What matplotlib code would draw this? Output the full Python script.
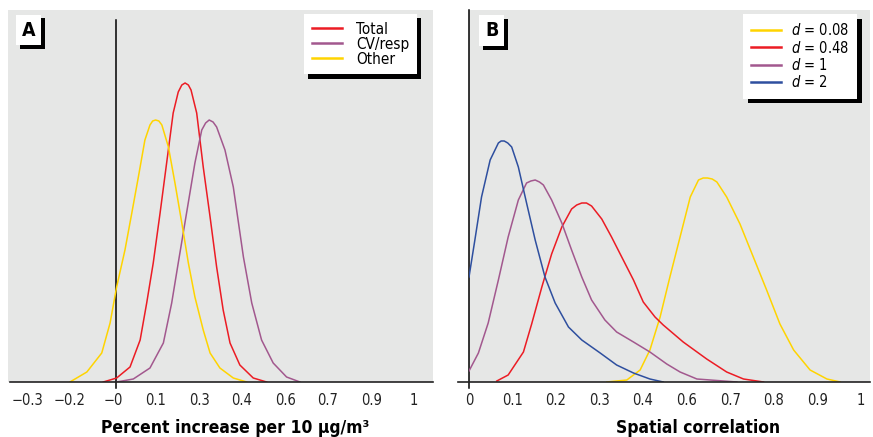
import matplotlib
matplotlib.use("Agg")
import matplotlib.pyplot as plt
import matplotlib.patheffects as pe
from matplotlib.lines import Line2D
from matplotlib import font_manager as fm

# narrow face if one is installed, otherwise condensed DejaVu
names = {f.name for f in fm.fontManager.ttflist}
if 'Liberation Sans Narrow' in names:
    plt.rcParams['font.family'] = ['Liberation Sans Narrow', 'DejaVu Sans']
else:
    plt.rcParams['font.family'] = ['DejaVu Sans']
    plt.rcParams['font.stretch'] = 'condensed'
plt.rcParams['mathtext.fontset'] = 'custom'
plt.rcParams['mathtext.it'] = 'DejaVu Sans:italic:stretch=condensed'

# panel A: posterior densities of the percent increase (x, density)
other_x = [-0.156, -0.099, -0.049, -0.021, 0.001, 0.029, 0.052, 0.074, 0.096, 0.113, 0.122, 0.132,
           0.143, 0.153, 0.175, 0.197, 0.220, 0.242, 0.264, 0.292, 0.315, 0.348, 0.393, 0.438]
other_y = [0.00, 0.10, 0.29, 0.59, 0.95, 1.32, 1.69, 2.05, 2.42, 2.57, 2.61, 2.62,
           2.61, 2.57, 2.35, 1.99, 1.59, 1.19, 0.85, 0.52, 0.29, 0.14, 0.04, 0.00]
total_x = [-0.044, 0.001, 0.046, 0.080, 0.102, 0.124, 0.147, 0.169, 0.191, 0.208, 0.220, 0.231,
           0.242, 0.251, 0.270, 0.292, 0.315, 0.337, 0.359, 0.382, 0.415, 0.460, 0.505]
total_y = [0.00, 0.04, 0.15, 0.42, 0.79, 1.19, 1.69, 2.19, 2.69, 2.90, 2.97, 2.99,
           2.97, 2.92, 2.69, 2.15, 1.65, 1.15, 0.72, 0.39, 0.17, 0.04, 0.00]
cvresp_x = [0.001, 0.057, 0.113, 0.158, 0.186, 0.208, 0.236, 0.264, 0.287, 0.300, 0.312, 0.325,
            0.337, 0.365, 0.393, 0.427, 0.455, 0.488, 0.527, 0.572, 0.617]
cvresp_y = [0.00, 0.03, 0.14, 0.39, 0.79, 1.19, 1.69, 2.19, 2.52, 2.59, 2.62, 2.60,
            2.55, 2.32, 1.95, 1.25, 0.79, 0.42, 0.19, 0.05, 0.00]

# panel B: spatial correlation densities for different d
d008_x = [0.352, 0.403, 0.437, 0.462, 0.488, 0.513, 0.539, 0.565, 0.586, 0.598, 0.609, 0.621,
          0.633, 0.658, 0.692, 0.726, 0.760, 0.794, 0.829, 0.871, 0.914, 0.948]
d008_y = [0.00, 0.02, 0.12, 0.32, 0.65, 1.05, 1.45, 1.85, 2.02, 2.04, 2.04, 2.03,
          2.00, 1.85, 1.58, 1.25, 0.92, 0.58, 0.32, 0.12, 0.03, 0.00]
d048_x = [0.071, 0.100, 0.139, 0.160, 0.186, 0.211, 0.237, 0.262, 0.275, 0.288, 0.300, 0.313,
          0.339, 0.364, 0.390, 0.420, 0.445, 0.475, 0.496, 0.547, 0.607, 0.658, 0.701, 0.752]
d048_y = [0.01, 0.07, 0.30, 0.58, 0.95, 1.28, 1.55, 1.73, 1.77, 1.79, 1.79, 1.76,
          1.63, 1.45, 1.25, 1.02, 0.80, 0.65, 0.57, 0.40, 0.23, 0.10, 0.03, 0.00]
d1_x = [0.000, 0.024, 0.049, 0.075, 0.100, 0.126, 0.147, 0.158, 0.169, 0.180, 0.190, 0.211,
        0.237, 0.262, 0.288, 0.313, 0.347, 0.377, 0.420, 0.462, 0.505, 0.539, 0.582, 0.684]
d1_y = [0.11, 0.29, 0.59, 1.02, 1.45, 1.82, 1.99, 2.01, 2.02, 2.00, 1.97, 1.82,
        1.59, 1.32, 1.05, 0.82, 0.62, 0.50, 0.40, 0.30, 0.18, 0.10, 0.03, 0.00]
d2_x = [0.000, 0.015, 0.032, 0.054, 0.075, 0.082, 0.090, 0.099, 0.109, 0.126, 0.147, 0.169,
        0.194, 0.220, 0.254, 0.288, 0.335, 0.377, 0.420, 0.462, 0.496]
d2_y = [1.05, 1.42, 1.85, 2.22, 2.39, 2.41, 2.41, 2.39, 2.35, 2.15, 1.79, 1.42,
        1.05, 0.79, 0.55, 0.42, 0.29, 0.17, 0.09, 0.03, 0.00]

ticksA = [-0.3, -0.156, -0.011, 0.133, 0.278, 0.422, 0.567, 0.711, 0.856, 1.0]
labelsA = ['\u22120.3', '\u22120.2', '\u22120', '0.1', '0.3', '0.4', '0.6', '0.7', '0.9', '1']
ticksB = [0, 0.111, 0.222, 0.333, 0.444, 0.556, 0.667, 0.778, 0.889, 1.0]
labelsB = ['0', '0.1', '0.2', '0.3', '0.4', '0.6', '0.7', '0.8', '0.9', '1']

RED = '#ec1c24'
PURPLE = '#a2588e'
YELLOW = '#ffd400'
BLUE = '#2e4f9f'
GREY = '#e6e7e6'

W, H = 873, 437
fig = plt.figure(figsize=(W / 100, H / 100), dpi=100)
axA = fig.add_axes([8 / W, 55 / H, 425 / W, 372 / H])
axB = fig.add_axes([469 / W, 55 / H, 401 / W, 372 / H])

shadow = lambda off: [pe.SimplePatchShadow(offset=(off, -off), shadow_rgbFace='black', alpha=1),
                      pe.Normal()]

for ax in (axA, axB):
    ax.set_facecolor(GREY)
    ax.set_ylim(0, 3.72)
    ax.set_yticks([])
    for s in ('top', 'right', 'left'):
        ax.spines[s].set_visible(False)
    ax.spines['bottom'].set_color('#222222')
    ax.spines['bottom'].set_linewidth(1.2)
    ax.tick_params(axis='x', length=0, pad=8, labelsize=10.5, colors='#222222')

# panel A
axA.set_xlim(-0.364, 1.064)
axA.spines['bottom'].set_bounds(-0.357, 1.064)
axA.axvline(0, ymin=-0.016, ymax=362 / 372, color='black', lw=1.1, clip_on=False)
axA.plot(total_x, total_y, color=RED, lw=1.1, label='Total')
axA.plot(cvresp_x, cvresp_y, color=PURPLE, lw=1.1, label='CV/resp')
axA.plot(other_x, other_y, color=YELLOW, lw=1.1, label='Other')
axA.set_xticks(ticksA)
axA.set_xticklabels(labelsA)
axA.set_xlabel('Percent increase per 10 \u03bcg/m\u00b3', fontsize=12.5, fontweight='bold', va='center')
axA.xaxis.set_label_coords(0.534, -0.124)
legA = axA.legend(loc='upper right', bbox_to_anchor=(0.962, 0.989), fontsize=11,
                  frameon=True, fancybox=False, framealpha=1, edgecolor='none',
                  borderaxespad=0, handlelength=2.0, handletextpad=0.9, labelspacing=0.0,
                  borderpad=0.5)
legA.get_frame().set_path_effects(shadow(3))
for h in legA.get_lines():
    h.set_linewidth(1.8)
tA = axA.text(0.049, 0.946, 'A', transform=axA.transAxes, fontsize=14, fontweight='bold',
              ha='center', va='center',
              bbox=dict(boxstyle='square,pad=0.3', fc='white', ec='none'))
tA.get_bbox_patch().set_path_effects(shadow(2.5))

# panel B
axB.set_xlim(0, 1.024)
axB.spines['bottom'].set_bounds(-0.029, 1.024)
axB.axvline(0, ymin=-0.016, ymax=1, color='black', lw=1.1, clip_on=False)
axB.plot(d008_x, d008_y, color=YELLOW, lw=1.1)
axB.plot(d048_x, d048_y, color=RED, lw=1.1)
axB.plot(d1_x, d1_y, color=PURPLE, lw=1.1)
axB.plot(d2_x, d2_y, color=BLUE, lw=1.1)
axB.set_xticks(ticksB)
axB.set_xticklabels(labelsB)
axB.set_xlabel('Spatial correlation', fontsize=12.5, fontweight='bold', va='center')
axB.xaxis.set_label_coords(0.571, -0.124)
handlesB = [Line2D([], [], color=c, lw=1.8) for c in (YELLOW, RED, PURPLE, BLUE)]
labelsLegB = ['$\\it{d}$ = 0.08', '$\\it{d}$ = 0.48', '$\\it{d}$ = 1', '$\\it{d}$ = 2']
legB = axB.legend(handlesB, labelsLegB, loc='upper right', bbox_to_anchor=(0.968, 0.989),
                  fontsize=10.5, frameon=True, fancybox=False, framealpha=1, edgecolor='none',
                  borderaxespad=0, handlelength=2.05, handletextpad=0.7, labelspacing=0.1,
                  borderpad=0.55)
legB.get_frame().set_path_effects(shadow(3.5))
tB = axB.text(0.057, 0.944, 'B', transform=axB.transAxes, fontsize=14, fontweight='bold',
              ha='center', va='center',
              bbox=dict(boxstyle='square,pad=0.3', fc='white', ec='none'))
tB.get_bbox_patch().set_path_effects(shadow(2.5))

fig.savefig('out.png', dpi=100)
